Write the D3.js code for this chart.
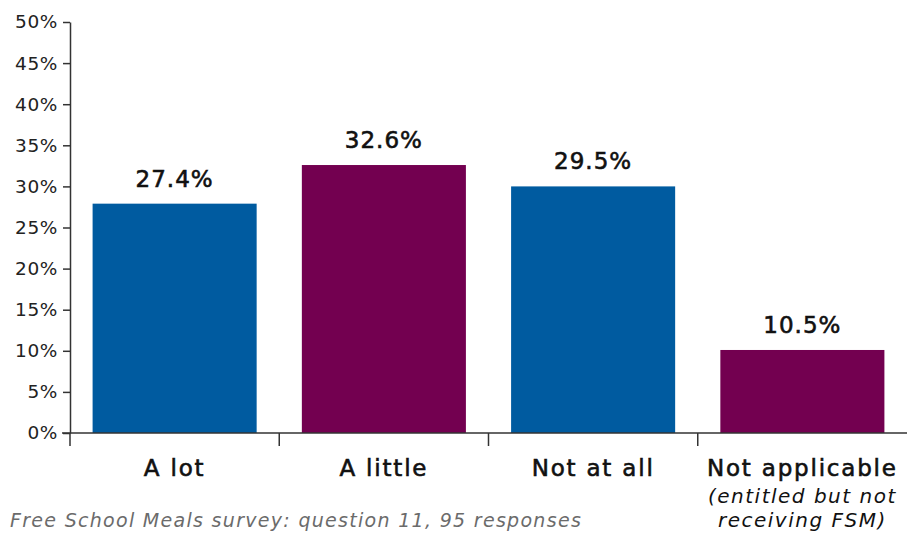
<!DOCTYPE html>
<html><head><meta charset="utf-8">
<script src="https://cdn.jsdelivr.net/npm/d3@7"></script>
<style>
body{margin:0;background:#fff;}
svg{display:block;font-family:"DejaVu Sans",sans-serif;}
</style></head><body>
<svg id="c" width="912" height="533"></svg>
<script>
const categories = ["A lot", "A little", "Not at all", "Not applicable"];
const values = [27.9, 32.6, 30.0, 10.1];
const valueLabels = ["27.4%", "32.6%", "29.5%", "10.5%"];
const subLabels = ["", "", "", "(entitled but not|receiving FSM)"];
const colors = ["#005ba0", "#730050", "#005ba0", "#730050"];
const yTicks = [0, 5, 10, 15, 20, 25, 30, 35, 40, 45, 50];
const footnote = "Free School Meals survey: question 11, 95 responses";

const svg = d3.select("#c");
const x = d3.scaleBand().domain(categories).range([70, 907]).paddingInner(0.216).paddingOuter(0.108);
const y = d3.scaleLinear().domain([0, 50]).range([433, 22]);

// bars
svg.selectAll("rect.bar").data(categories).join("rect")
  .attr("x", d => x(d)).attr("width", x.bandwidth())
  .attr("y", (d, i) => y(values[i])).attr("height", (d, i) => y(0) - y(values[i]))
  .attr("fill", (d, i) => colors[i]);

// y axis
const ya = svg.append("g").attr("transform", "translate(70,0)")
  .call(d3.axisLeft(y).tickValues(yTicks).tickFormat(d => d + "%").tickSize(7).tickSizeOuter(0).tickPadding(5));
ya.select(".domain").attr("stroke", "#333").attr("stroke-width", 1.5);
ya.selectAll(".tick line").attr("stroke", "#333").attr("stroke-width", 1.5);
ya.selectAll(".tick text").attr("font-size", 18.5).attr("fill", "#222")
  .attr("font-family", "DejaVu Sans").attr("letter-spacing", 0.6);

// x axis line and boundary ticks
const xa = svg.append("g");
xa.append("line").attr("x1", 62).attr("x2", 907).attr("y1", y(0)).attr("y2", y(0))
  .attr("stroke", "#333").attr("stroke-width", 1.5);
const step = x.step();
const edges = categories.map(c => x(c) - (step - x.bandwidth()) / 2);
xa.selectAll("line.t").data(edges).join("line")
  .attr("x1", d => d).attr("x2", d => d).attr("y1", y(0)).attr("y2", y(0) + 13)
  .attr("stroke", "#333").attr("stroke-width", 1.5);

// value labels
svg.selectAll("text.val").data(categories).join("text")
  .attr("x", d => x(d) + x.bandwidth() / 2).attr("y", (d, i) => y(values[i]) - 17)
  .attr("text-anchor", "middle").attr("font-size", 23).attr("fill", "#111").attr("letter-spacing", 1)
  .attr("stroke", "#111").attr("stroke-width", 0.6)
  .text((d, i) => valueLabels[i]);

// category labels
svg.selectAll("text.cat").data(categories).join("text")
  .attr("x", d => x(d) + x.bandwidth() / 2).attr("y", 476)
  .attr("text-anchor", "middle").attr("font-size", 23).attr("fill", "#111").attr("letter-spacing", 1.8)
  .attr("stroke", "#111").attr("stroke-width", 0.6)
  .text(d => d);

categories.forEach((c, i) => {
  if (!subLabels[i]) return;
  subLabels[i].split("|").forEach((s, j) => {
    svg.append("text").attr("x", x(c) + x.bandwidth() / 2).attr("y", 503 + j * 24)
      .attr("text-anchor", "middle").attr("font-size", 20).attr("font-style", "italic").attr("fill", "#111")
      .attr("letter-spacing", 1.5)
      .text(s);
  });
});

svg.append("text").attr("x", 10).attr("y", 527).attr("font-size", 19).attr("font-style", "italic")
  .attr("letter-spacing", 1.3).attr("fill", "#6b6b6b").text(footnote);
</script>
</body></html>
